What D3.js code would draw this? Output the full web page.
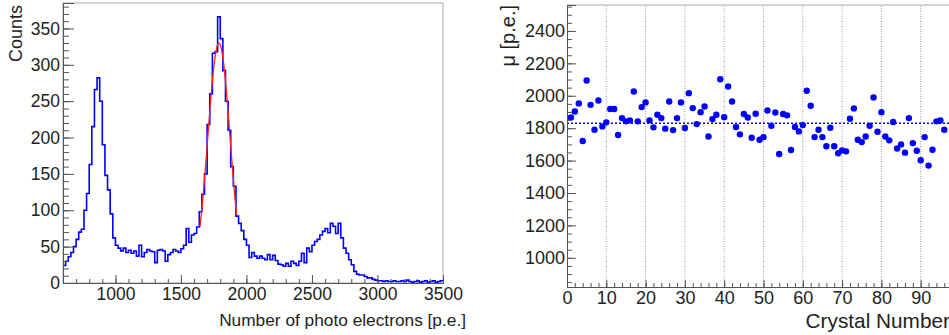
<!DOCTYPE html>
<html>
<head>
<meta charset="utf-8">
<script src="https://cdn.jsdelivr.net/npm/d3@7"></script>
<style>
body { margin: 0; background: #fff; }
svg { display: block; font-family: "Liberation Sans", Arial, sans-serif; }
</style>
</head>
<body>
<svg id="chart" width="949" height="335"></svg>
<script>
// spectrum: counts per 20 p.e. bin, starting at 600 p.e.
var binStart = 600, binWidth = 20;
var counts = [
    24, 30, 36, 42, 50, 60, 70, 74, 100, 123, 163, 215, 266, 282, 250, 190, 148, 128, 95, 62,
    52, 48, 44, 48, 42, 45, 41, 44, 37, 52, 36, 42, 46, 44, 43, 28, 45, 46, 44, 30,
    39, 42, 46, 44, 42, 47, 52, 75, 56, 66, 68, 77, 98, 122, 150, 218, 260, 316, 318, 366,
    336, 292, 250, 210, 160, 133, 92, 82, 72, 60, 52, 35, 42, 37, 34, 37, 34, 32, 39, 32,
    38, 31, 26, 25, 23, 27, 23, 30, 27, 24, 30, 41, 28, 48, 43, 52, 57, 60, 66, 71,
    75, 69, 82, 78, 68, 82, 62, 48, 41, 32, 25, 16, 12, 11, 11, 9, 7, 7, 5, 4,
    3, 3, 2, 3, 2, 2, 3, 2, 2, 3, 2, 4, 2, 1, 2, 3, 1, 2, 3, 1, 2, 3, 1, 2, 3
];
// gaussian fit on the central peak
var fitMean = 1790, fitSigma = 85, fitAmp = 330, fitFrom = 1645, fitTo = 1925;

// mean photo electrons per crystal
var crystals = d3.range(1, 97);
var mu = [
    1866, 1903, 1953, 1721, 2094, 1944, 1790, 1971, 1811, 1836,
    1918, 1918, 1758, 1862, 1842, 1848, 2026, 1842, 1930, 1959,
    1848, 1805, 1883, 1862, 1797, 1965, 1788, 1862, 1959, 1801,
    2016, 1924, 1825, 1899, 1934, 1749, 1856, 1883, 2102, 1868,
    2057, 1965, 1807, 1762, 1887, 1866, 1741, 1889, 1729, 1745,
    1909, 1815, 1897, 1641, 1887, 1879, 1665, 1807, 1780, 1819,
    2031, 1938, 1745, 1790, 1745, 1688, 1803, 1688, 1645, 1663,
    1657, 1858, 1922, 1729, 1714, 1749, 1815, 1990, 1778, 1899,
    1749, 1725, 1838, 1675, 1700, 1649, 1862, 1708, 1661, 1602,
    1745, 1569, 1667, 1842, 1848, 1790
];
var muMean = 1830;

var svg = d3.select("#chart");
var textCol = "#222", axisCol = "#555";
var plain = d3.format("d");

function styleAxis(g) {
    g.select(".domain").attr("stroke", axisCol).attr("stroke-width", 1);
    g.selectAll(".tick line").attr("stroke", axisCol);
    g.selectAll(".tick text").attr("fill", textCol);
}

// ---------- left panel ----------
var x1 = d3.scaleLinear().domain([600, 3500]).range([63, 443]);
var y1 = d3.scaleLinear().domain([0, 385]).range([283, 3]);

svg.append("rect")
    .attr("x", x1(600)).attr("y", y1(385))
    .attr("width", x1(3500) - x1(600)).attr("height", y1(0) - y1(385))
    .attr("fill", "none").attr("stroke", "#aaa");

var histPts = counts.map(function (c, i) { return [binStart + i * binWidth, c]; });
histPts.push([binStart + counts.length * binWidth, counts[counts.length - 1]]);

svg.append("path")
    .datum(histPts)
    .attr("fill", "none")
    .attr("stroke", "#0000ff")
    .attr("stroke-width", 1.6)
    .attr("d", d3.line()
        .x(function (d) { return x1(d[0]); })
        .y(function (d) { return y1(d[1]); })
        .curve(d3.curveStepAfter));

var fitX = d3.range(fitFrom, fitTo + 1, 5);
svg.append("path")
    .datum(fitX)
    .attr("fill", "none")
    .attr("stroke", "#ff2020")
    .attr("stroke-width", 1.3)
    .attr("d", d3.line()
        .x(function (d) { return x1(d); })
        .y(function (d) { return y1(fitAmp * Math.exp(-Math.pow(d - fitMean, 2) / (2 * fitSigma * fitSigma))); }));

svg.append("g")
    .attr("transform", "translate(0," + y1(0) + ")")
    .call(d3.axisBottom(x1).tickValues(d3.range(700, 3500, 100)).tickSize(-4).tickFormat(""))
    .call(styleAxis);
svg.append("g")
    .attr("transform", "translate(0," + y1(0) + ")")
    .call(d3.axisBottom(x1).tickValues([1000, 1500, 2000, 2500, 3000, 3500]).tickSize(-8).tickPadding(5).tickFormat(plain))
    .call(styleAxis)
    .selectAll("text").attr("font-size", 17.5);

svg.append("g")
    .attr("transform", "translate(" + x1(600) + ",0)")
    .call(d3.axisLeft(y1).tickValues(d3.range(0, 381, 10)).tickSize(-6).tickFormat(""))
    .call(styleAxis);
svg.append("g")
    .attr("transform", "translate(" + x1(600) + ",0)")
    .call(d3.axisLeft(y1).tickValues(d3.range(0, 351, 50)).tickSize(-11).tickPadding(3).tickFormat(plain))
    .call(styleAxis)
    .selectAll("text").attr("font-size", 17.5);

svg.append("text")
    .attr("transform", "translate(22,5) rotate(-90)")
    .attr("text-anchor", "end")
    .attr("font-size", 18)
    .attr("fill", textCol)
    .text("Counts");

svg.append("text")
    .attr("x", 466).attr("y", 326)
    .attr("text-anchor", "end")
    .attr("font-size", 17.3)
    .attr("fill", textCol)
    .text("Number of photo electrons [p.e.]");

// ---------- right panel ----------
var x2 = d3.scaleLinear().domain([0, 100]).range([567, 960]);
var y2 = d3.scaleLinear().domain([820, 2560]).range([287, 5]);

svg.append("line")
    .attr("x1", x2(0)).attr("x2", x2(100))
    .attr("y1", y2(2560)).attr("y2", y2(2560))
    .attr("stroke", "#aaa");

svg.append("g")
    .selectAll("line")
    .data(d3.range(10, 100, 10))
    .enter()
    .append("line")
    .attr("x1", function (d) { return x2(d); })
    .attr("x2", function (d) { return x2(d); })
    .attr("y1", y2(820)).attr("y2", y2(2560))
    .attr("stroke", "#999")
    .attr("stroke-dasharray", "1,1.5");

svg.append("line")
    .attr("x1", x2(0)).attr("x2", x2(100))
    .attr("y1", y2(muMean)).attr("y2", y2(muMean))
    .attr("stroke", "#0000ff")
    .attr("stroke-width", 1.5)
    .attr("stroke-dasharray", "2,2");

svg.append("g")
    .selectAll("circle")
    .data(crystals)
    .enter()
    .append("circle")
    .attr("cx", function (d) { return x2(d); })
    .attr("cy", function (d, i) { return y2(mu[i]); })
    .attr("r", 3.2)
    .attr("fill", "#0000ff");

svg.append("g")
    .attr("transform", "translate(0," + y2(820) + ")")
    .call(d3.axisBottom(x2).tickValues(d3.range(2, 100, 2)).tickSize(-4).tickFormat(""))
    .call(styleAxis);
svg.append("g")
    .attr("transform", "translate(0," + y2(820) + ")")
    .call(d3.axisBottom(x2).tickValues(d3.range(0, 91, 10)).tickSize(-7).tickPadding(4).tickFormat(plain))
    .call(styleAxis)
    .selectAll("text").attr("font-size", 18);

svg.append("g")
    .attr("transform", "translate(" + x2(0) + ",0)")
    .call(d3.axisLeft(y2).tickValues(d3.range(850, 2560, 50)).tickSize(-5).tickFormat(""))
    .call(styleAxis);
svg.append("g")
    .attr("transform", "translate(" + x2(0) + ",0)")
    .call(d3.axisLeft(y2).tickValues(d3.range(1000, 2401, 200)).tickSize(-9).tickPadding(2).tickFormat(plain))
    .call(styleAxis)
    .selectAll("text").attr("font-size", 18);

svg.append("text")
    .attr("transform", "translate(515,5) rotate(-90)")
    .attr("text-anchor", "end")
    .attr("font-size", 20)
    .attr("fill", textCol)
    .text("\u03bc [p.e.]");

svg.append("text")
    .attr("x", 950).attr("y", 328)
    .attr("text-anchor", "end")
    .attr("font-size", 20.8)
    .attr("fill", textCol)
    .text("Crystal Number");
</script>
</body>
</html>
